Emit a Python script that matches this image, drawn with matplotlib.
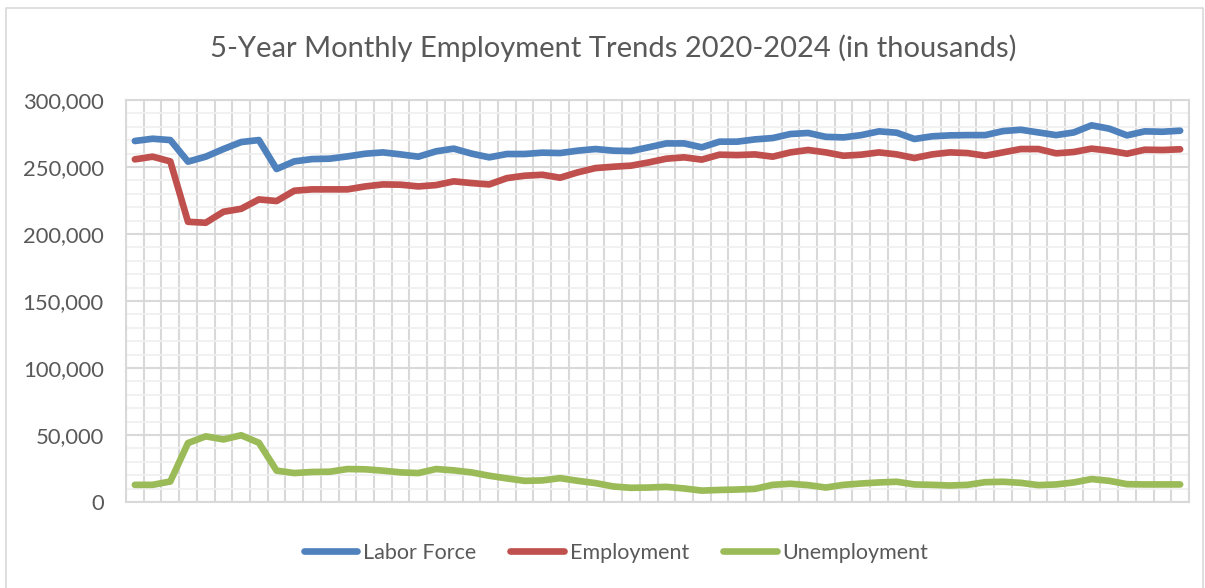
import numpy as np
import matplotlib.pyplot as plt
from matplotlib.ticker import FuncFormatter, MultipleLocator
from matplotlib.lines import Line2D

# monthly series, Jan 2020 - Dec 2024 (thousands)
months = [f"{y}-{m:02d}" for y in range(2020, 2025) for m in range(1, 13)]

labor_force = [269400, 271100, 270100, 254000, 257700, 263400, 268600, 270100, 248500, 254200,
               255900, 256200, 257900, 259900, 260900, 259400, 257700, 261700, 263700, 260000,
               257200, 259700, 259700, 260700, 260400, 262200, 263400, 262200, 261900, 264700,
               267600, 267600, 264700, 268900, 268900, 270600, 271600, 274600, 275400, 272500,
               272100, 273800, 276600, 275600, 270900, 272900, 273600, 273800, 273800, 276800,
               277800, 275800, 273800, 275800, 281100, 278600, 273600, 276600, 276300, 277100]

employment = [255700, 257700, 254200, 209100, 208400, 216600, 218800, 225800, 224600, 232300,
              233300, 233300, 233300, 235500, 237000, 236800, 235500, 236500, 239300, 238000,
              237000, 241700, 243500, 244200, 242000, 246000, 249200, 250200, 251000, 253400,
              256200, 257200, 255500, 259200, 258900, 259400, 257700, 260900, 262700, 260900,
              258400, 259200, 260900, 259400, 256700, 259400, 260900, 260400, 258400, 260900,
              263400, 263400, 260200, 261200, 263700, 262200, 259900, 262900, 262700, 263200]

unemployment = [12800, 12800, 15300, 44000, 49000, 46700, 49800, 44200, 23400, 21600,
                22400, 22600, 24600, 24400, 23400, 22100, 21600, 24600, 23600, 22100,
                19600, 17600, 15800, 16100, 17800, 15800, 14100, 11600, 10600, 10800,
                11300, 10100, 8500, 9000, 9300, 9800, 12800, 13600, 12600, 10800,
                12800, 13800, 14600, 15100, 13100, 12800, 12300, 12800, 14800, 15100,
                14300, 12600, 13100, 14600, 17100, 15800, 13300, 13100, 13100, 13100]

series = [("Labor Force", labor_force, "#4F81BD"),
          ("Employment", employment, "#C0504D"),
          ("Unemployment", unemployment, "#9BBB59")]

plt.rcParams['font.family'] = ['Lato', 'DejaVu Sans']
text_gray = "#595959"
grid_gray = "#d9d9d9"

fig = plt.figure(figsize=(12.05, 5.88), dpi=100)
ax = fig.add_axes([126 / 1205, 1 - 502 / 588, 1063 / 1205, 402 / 588])

x = np.arange(len(months))
for name, vals, color in series:
    ax.plot(x, vals, color=color, lw=4.8, label=name,
            solid_capstyle='round', solid_joinstyle='round', zorder=3)

ax.set_xlim(-0.5, len(months) - 0.5)
ax.set_ylim(0, 300000)

# gridlines: category boundaries, major and minor horizontals
ax.yaxis.set_major_locator(MultipleLocator(50000))
ax.yaxis.set_minor_locator(MultipleLocator(10000))
ax.set_xticks(np.arange(-0.5, len(months)), minor=False)
ax.grid(axis='x', which='major', color=grid_gray, lw=1.5, zorder=1)
ax.grid(axis='y', which='major', color=grid_gray, lw=1.5, zorder=1)
ax.grid(axis='y', which='minor', color="#f0f0f0", lw=1.3, zorder=0)
ax.tick_params(axis='x', length=0, labelbottom=False)
ax.tick_params(axis='y', which='both', length=0, pad=16, labelsize=15.8, labelcolor=text_gray)
ax.yaxis.set_major_formatter(FuncFormatter(lambda v, p: f"{v:,.0f}"))
for s in ax.spines.values():
    s.set_color(grid_gray)
    s.set_linewidth(1.5)

fig.text(0.509, 1 - 48 / 588, "5-Year Monthly Employment Trends 2020-2024 (in thousands)",
         ha='center', va='center', fontsize=21, color=text_gray)

handles = [Line2D([], [], color=c, lw=4.8, solid_capstyle='round') for _, _, c in series]
fig.legend(handles, [n for n, _, _ in series], loc='center', bbox_to_anchor=(616 / 1205, 1 - 553 / 588),
           ncol=3, frameon=False, fontsize=15.5, labelcolor=text_gray,
           handlelength=2.5, handletextpad=0.25, columnspacing=1.6)

# chart area outline
fig.add_artist(Line2D([6 / 1205, 6 / 1205, 1203 / 1205, 1203 / 1205],
                      [-0.1, 1 - 8 / 588, 1 - 8 / 588, -0.1],
                      transform=fig.transFigure, color=grid_gray, lw=1.2))

fig.savefig("out.png", dpi=100)
